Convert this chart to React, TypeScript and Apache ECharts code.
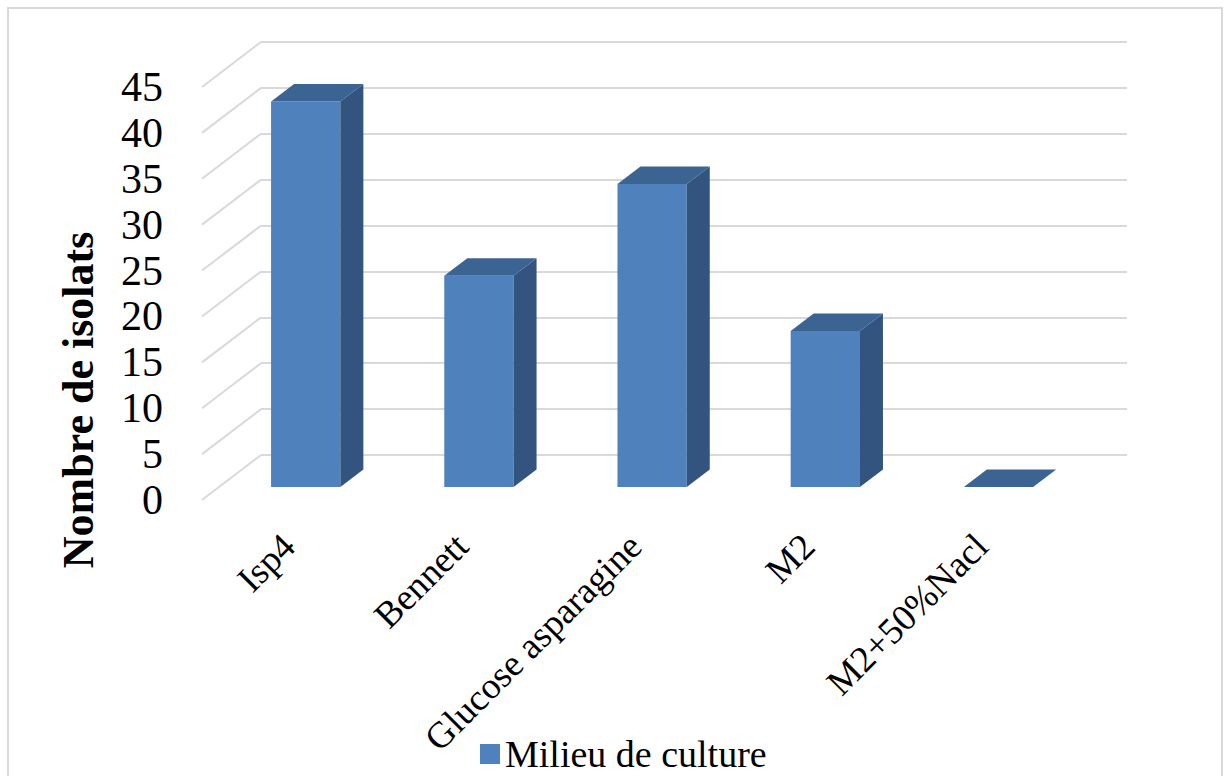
import React, { useEffect, useRef } from "react";
import * as echarts from "echarts";

const categories = ["Isp4", "Bennett", "Glucose asparagine", "M2", "M2+50%Nacl"];
const isolats = [42, 23, 33, 17, 0];
const yTicks = [0, 5, 10, 15, 20, 25, 30, 35, 40, 45];
const seriesName = "Milieu de culture";
const yTitle = "Nombre de isolats";

const FONT = "'Liberation Serif', 'Times New Roman', serif";
const DX = 59;
const DY = 45;
const GRID_COLOR = "#d9d9d9";

export default function App() {
  const ref = useRef<HTMLDivElement>(null);
  useEffect(() => {
    document.body.style.margin = "0";
    const chart = echarts.init(ref.current!, null, { renderer: "svg" });
    const option: any = {
      animation: false,
      backgroundColor: "#ffffff",
      grid: [
        { left: 202, top: 87, width: 866, height: 413 },
        { left: 202 + DX, top: 87 - DY, width: 866, height: 413 },
      ],
      xAxis: [
        {
          type: "category",
          gridIndex: 0,
          data: categories,
          axisLine: { show: false },
          axisTick: { show: false },
          axisLabel: {
            interval: 0,
            rotate: 45,
            margin: 40,
            color: "#000",
            fontSize: 37,
            fontFamily: FONT,
          },
        },
        {
          type: "category",
          gridIndex: 1,
          data: categories,
          show: false,
        },
      ],
      yAxis: [
        {
          type: "value",
          gridIndex: 0,
          min: 0,
          max: 45,
          interval: 5,
          axisLine: { show: false },
          axisTick: { show: false },
          splitLine: { show: false },
          axisLabel: { margin: 39, color: "#000", fontSize: 42, fontFamily: FONT },
        },
        {
          type: "value",
          gridIndex: 1,
          min: 0,
          max: 45,
          interval: 5,
          axisLine: { show: false },
          axisTick: { show: false },
          axisLabel: { show: false },
          splitLine: { show: true, lineStyle: { color: GRID_COLOR, width: 2 } },
        },
      ],
      legend: {
        data: [seriesName],
        left: 475,
        top: 730,
        icon: "rect",
        itemWidth: 20,
        itemHeight: 20,
        textStyle: { color: "#000", fontSize: 38, fontFamily: FONT },
      },
      graphic: [
        {
          type: "rect",
          shape: { x: 8, y: 8, width: 1214, height: 790 },
          style: { fill: "none", stroke: GRID_COLOR, lineWidth: 2 },
          silent: true,
        },
        {
          type: "text",
          x: 78,
          y: 400,
          rotation: Math.PI / 2,
          style: {
            text: yTitle,
            fill: "#000",
            font: `bold 44px ${FONT}`,
            textAlign: "center",
            textVerticalAlign: "middle",
          },
        },
      ],
      series: [
        {
          type: "custom",
          name: "floor-lines",
          xAxisIndex: 0,
          yAxisIndex: 0,
          silent: true,
          data: yTicks.map((v) => [0, v]),
          renderItem: (params: any, api: any) => {
            const p = api.coord([0, api.value(1)]);
            const band = api.size([1, 0])[0];
            const x0 = p[0] - band / 2;
            return {
              type: "line",
              shape: { x1: x0, y1: p[1], x2: x0 + DX, y2: p[1] - DY },
              style: { stroke: GRID_COLOR, lineWidth: 2 },
            };
          },
        },
        {
          type: "custom",
          name: seriesName,
          xAxisIndex: 0,
          yAxisIndex: 0,
          itemStyle: { color: "#4f81bd" },
          data: isolats.map((v, i) => [i, v]),
          renderItem: (params: any, api: any) => {
            const i = api.value(0);
            const top = api.coord([i, api.value(1)]);
            const base = api.coord([i, 0]);
            const band = api.size([1, 0])[0];
            const w = band * 0.4;
            const fx = DX * 0.29;
            const fy = DY * 0.29;
            const dx = DX * 0.39;
            const dy = DY * 0.39;
            const xl = top[0] - w / 2 + fx;
            const xr = xl + w;
            const yt = top[1] - fy;
            const yb = base[1] - fy;
            return {
              type: "group",
              children: [
                {
                  type: "rect",
                  shape: { x: xl, y: yt, width: w, height: yb - yt },
                  style: { fill: "#4f81bd" },
                },
                {
                  type: "polygon",
                  shape: {
                    points: [
                      [xr, yt],
                      [xr + dx, yt - dy],
                      [xr + dx, yb - dy],
                      [xr, yb],
                    ],
                  },
                  style: { fill: "#32547f" },
                },
                {
                  type: "polygon",
                  shape: {
                    points: [
                      [xl, yt],
                      [xl + dx, yt - dy],
                      [xr + dx, yt - dy],
                      [xr, yt],
                    ],
                  },
                  style: { fill: "#3c6492" },
                },
              ],
            };
          },
        },
      ],
    };
    chart.setOption(option);
    return () => chart.dispose();
  }, []);
  return <div ref={ref} style={{ width: 1224, height: 776 }} />;
}
